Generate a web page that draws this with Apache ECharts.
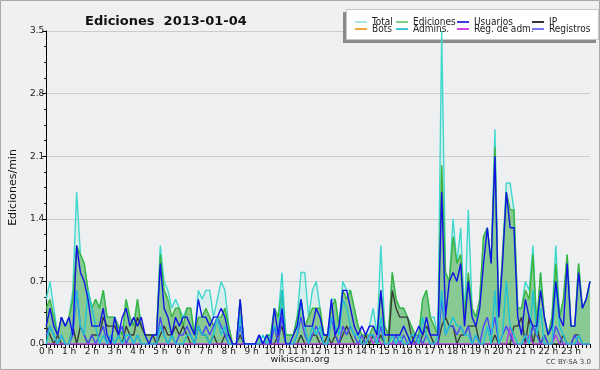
<!DOCTYPE html>
<html>
<head>
<meta charset="utf-8">
<script src="https://cdn.jsdelivr.net/npm/echarts@6/dist/echarts.min.js"></script>
<style>
  html, body { margin: 0; padding: 0; background: #f0f0f0; }
  #chart { width: 600px; height: 370px; }
</style>
</head>
<body>
<div id="chart"></div>
<script>
// one value per 10 minutes (144 per day), edits per minute
const hourLabels = ['0 h','1 h','2 h','3 h','4 h','5 h','6 h','7 h','8 h','9 h','10 h','11 h',
  '12 h','13 h','14 h','15 h','16 h','17 h','18 h','19 h','20 h','21 h','22 h','23 h']
const yTicks = [0, 0.7, 1.4, 2.1, 2.8, 3.5]

const total = [
  0.5,0.7,0.4,0.1,0.3,0.2, 0.3,0.6,1.7,1.0,0.9,0.6, 0.4,0.5,0.4,0.6,0.3,0.3,
  0.3,0.2,0.1,0.5,0.3,0.2, 0.5,0.2,0.1,0.1,0.1,0.1, 1.1,0.7,0.6,0.4,0.5,0.4,
  0.3,0.4,0.4,0.1,0.6,0.5, 0.6,0.6,0.3,0.5,0.7,0.6, 0.2,0,0,0.5,0,0,
  0,0,0.1,0,0.1,0.1, 0.4,0.3,0.8,0.1,0.1,0.1, 0.3,0.8,0.8,0.3,0.6,0.7,
  0.4,0.1,0.1,0.5,0.5,0.2, 0.7,0.6,0.6,0.4,0.2,0.1, 0.1,0.2,0.4,0.1,1.1,0.2,
  0.1,0.8,0.5,0.4,0.4,0.3, 0.2,0.1,0.1,0.5,0.6,0.3, 0.3,0.1,3.5,0.8,0.7,1.4,
  0.9,1.3,0.3,1.5,0.4,0.3, 0.5,1.2,1.3,0.9,2.4,0.3, 1.0,1.8,1.8,1.5,0.4,0.4,
  0.7,0.6,1.1,0.2,0.8,0.3, 0.1,0.3,1.1,0.3,0.5,1.0, 0.2,0.2,0.9,0.4,0.5,0.7
]
const ediciones = [
  0.4,0.5,0.3,0.1,0.3,0.2, 0.3,0.5,1.1,1.0,0.9,0.6, 0.4,0.5,0.4,0.6,0.3,0.3,
  0.3,0.2,0.1,0.5,0.3,0.2, 0.5,0.2,0.1,0.1,0.1,0.1, 1.0,0.6,0.5,0.3,0.4,0.4,
  0.2,0.4,0.4,0.1,0.3,0.3, 0.4,0.3,0.2,0.3,0.3,0.4, 0.2,0,0,0.5,0,0,
  0,0,0.1,0,0.1,0.1, 0.4,0.3,0.6,0.1,0.1,0.1, 0.3,0.5,0.2,0.3,0.4,0.4,
  0.4,0.1,0.1,0.4,0.5,0.2, 0.6,0.5,0.6,0.4,0.2,0.1, 0.1,0.1,0.2,0.1,0.6,0.2,
  0.1,0.8,0.5,0.4,0.4,0.3, 0.2,0.1,0.1,0.5,0.6,0.3, 0.2,0.1,2.0,0.8,0.7,1.2,
  0.9,1.0,0.3,0.8,0.4,0.3, 0.5,1.2,1.3,0.9,2.2,0.3, 1.0,1.7,1.5,1.5,0.4,0.4,
  0.6,0.5,1.0,0.2,0.8,0.3, 0.1,0.3,0.9,0.3,0.5,1.0, 0.2,0.2,0.9,0.4,0.5,0.7
]
const usuarios = [
  0.2,0.4,0.2,0.1,0.3,0.2, 0.3,0.1,1.1,0.8,0.7,0.5, 0.2,0.2,0.2,0.4,0.1,0,
  0.3,0.1,0.3,0.4,0.2,0.3, 0.2,0.3,0.1,0,0.1,0.1, 0.9,0.4,0.3,0.1,0.3,0.2,
  0.3,0.3,0.2,0.1,0.5,0.3, 0.3,0.2,0.3,0.3,0.4,0.3, 0.1,0,0,0.5,0,0,
  0,0,0.1,0,0.1,0, 0.4,0.1,0.4,0,0,0.1, 0.2,0.5,0.2,0.2,0.2,0.4,
  0.3,0.1,0.1,0.5,0.1,0.2, 0.6,0.6,0.4,0.2,0.1,0.2, 0.1,0.2,0.2,0.1,0.6,0.1,
  0.1,0.1,0.1,0.1,0.2,0.1, 0,0.1,0.2,0.1,0.3,0.1, 0.1,0.1,1.7,0.3,0.7,0.8,
  0.7,0.9,0.2,0.7,0.3,0.2, 0.4,0.9,1.3,0.9,2.1,0.3, 0.9,1.7,1.3,1.3,0.3,0.1,
  0.5,0.3,0.2,0.2,0.6,0.3, 0.1,0.2,0.7,0.3,0.2,0.9, 0.2,0.2,0.8,0.4,0.5,0.7
]
const ip = [
  0.2,0.1,0,0.1,0,0, 0,0.2,0,0.2,0.1,0, 0.1,0.1,0.1,0.3,0.2,0.2,
  0.2,0.1,0,0.2,0.1,0.1, 0.3,0.2,0.1,0.1,0.1,0, 0.1,0.2,0.1,0.1,0.2,0.1,
  0.2,0.1,0,0,0.2,0.1, 0.1,0,0.1,0,0,0.1, 0.1,0,0,0.1,0,0,
  0,0,0,0,0,0, 0,0.1,0.2,0,0,0, 0,0.1,0,0,0.1,0.1,
  0,0,0.1,0,0.1,0, 0.1,0.2,0.1,0,0,0, 0.1,0,0.1,0,0.1,0,
  0,0.6,0.4,0.3,0.3,0.3, 0.1,0,0,0.1,0.2,0.1, 0,0,0.2,0.3,0.2,0.2,
  0,0.1,0.1,0.2,0.2,0.2, 0,0,0,0,0.1,0, 0,0,0,0.2,0.2,0.3,
  0,0.3,0,0.2,0,0.1, 0,0,0,0,0.1,0, 0,0.1,0.1,0,0,0
]
const bots = []
const admins = [
  0,0.2,0.1,0,0.1,0, 0,0.2,0.6,0.2,0.1,0.6, 0.4,0.2,0,0.1,0,0.1,
  0,0.1,0,0.1,0.1,0, 0.1,0,0,0,0,0, 0.2,0.1,0,0.1,0,0,
  0,0.1,0.1,0,0.2,0.1, 0.1,0,0.1,0.3,0.1,0.2, 0,0,0,0.3,0,0,
  0,0,0,0.1,0,0.1, 0.2,0.1,0.6,0,0,0, 0.1,0.5,0.2,0,0.2,0.1,
  0.2,0,0,0.3,0.2,0.1, 0.5,0.4,0.2,0.1,0.1,0, 0,0.1,0.1,0,0.3,0,
  0,0.1,0,0.1,0,0, 0.1,0.1,0,0.3,0.1,0, 0,0.1,0.6,0.1,0.2,0.3,
  0.2,0.2,0.1,0.1,0,0.1, 0,0,0.2,0,0.6,0, 0.1,0.7,0.2,0.1,0,0,
  0.1,0,0.6,0.1,0.4,0, 0,0,0.7,0.2,0.1,0, 0,0,0.1,0,0,0
]
const regAdm = [
  0,0,0,0,0,0, 0,0,0,0,0,0, 0,0,0,0,0,0,
  0,0,0,0,0,0, 0,0,0,0,0,0, 0,0,0,0,0,0,
  0,0,0,0,0,0, 0,0,0,0,0,0, 0,0,0,0,0,0,
  0,0,0,0,0,0, 0,0,0,0,0,0, 0,0,0,0,0,0,
  0,0,0,0,0,0, 0,0,0,0,0,0, 0,0.1,0,0.1,0,0,
  0,0,0,0,0,0, 0,0,0,0,0,0, 0,0,0,0,0,0,
  0,0,0,0,0,0, 0,0,0,0,0,0, 0,0,0.2,0,0,0,
  0,0.1,0,0,0,0, 0,0,0.1,0,0,0, 0,0,0,0,0,0
]
const registros = [
  0.1,0.2,0.1,0,0.1,0, 0,0.1,0.6,0.2,0.1,0, 0.1,0,0.1,0.2,0,0.1,
  0,0.1,0.2,0,0.1,0, 0.1,0,0,0,0,0, 0.3,0.1,0,0.1,0,0.1,
  0.1,0.2,0.1,0,0.2,0.1, 0.2,0.1,0.2,0.3,0.2,0.1, 0,0,0,0.2,0,0,
  0,0,0.1,0,0,0, 0.2,0,0.3,0,0,0, 0.1,0.3,0.1,0,0.1,0.2,
  0.1,0,0,0.3,0.1,0, 0.2,0.1,0.2,0.1,0,0.1, 0,0.1,0.1,0,0.2,0,
  0,0,0.1,0,0.1,0, 0,0,0.1,0,0.1,0, 0,0,0.5,0.1,0.2,0.2,
  0.1,0.2,0.1,0.2,0,0.1, 0,0.2,0.3,0.1,0.3,0, 0.1,0.2,0.1,0,0,0,
  0.1,0,0.2,0.1,0,0.1, 0,0,0.2,0.1,0,0, 0,0.1,0,0,0,0
]

const pts = arr => arr.map((v, i) => [i, v])

function lineSeries(name, data, color, extra) {
  return Object.assign({
    name: name,
    type: 'line',
    data: pts(data),
    showSymbol: false,
    symbol: 'none',
    color: color,
    lineStyle: { width: 1.4, color: color },
    animation: false
  }, extra || {})
}

function legendCol(left, names) {
  return {
    left: left,
    top: 12,
    orient: 'vertical',
    itemGap: -3,
    itemWidth: 12,
    itemHeight: 2,
    icon: 'rect',
    selectedMode: false,
    textStyle: { fontFamily: 'DejaVu Sans Condensed, DejaVu Sans', fontSize: 10, color: '#222' },
    data: names
  }
}

const chart = echarts.init(document.getElementById('chart'))
chart.setOption({
  backgroundColor: '#f0f0f0',
  title: {
    text: 'Ediciones  2013-01-04',
    left: 80,
    top: 10,
    textStyle: { fontFamily: 'DejaVu Sans', fontSize: 13, fontWeight: 'bold', color: '#111' }
  },
  graphic: [
    { type: 'rect', shape: { x: 0.5, y: 0.5, width: 599, height: 369 }, style: { fill: 'none', stroke: '#a8a8a8', lineWidth: 1 }, z: 0 },
    { type: 'rect', shape: { x: 343, y: 12, width: 253, height: 31 }, style: { fill: '#8a8a8a' }, z: 1 },
    { type: 'rect', shape: { x: 346.5, y: 9.5, width: 252, height: 30 }, style: { fill: '#ffffff', stroke: '#c8c8c8', lineWidth: 1 }, z: 2 },
    { type: 'text', left: 'center', top: 355, style: { text: 'wikiscan.org', fontFamily: 'DejaVu Sans', fontSize: 9.5, fill: '#222' } },
    { type: 'text', right: 9, top: 359, style: { text: 'CC BY-SA 3.0', fontFamily: 'DejaVu Sans', fontSize: 7, fill: '#444' } }
  ],
  legend: [
    legendCol(350, [
      { name: 'Total', itemStyle: { color: '#a6e6e0' } },
      { name: 'Bots', itemStyle: { color: '#f3a640' } }
    ]),
    legendCol(391, [
      { name: 'Ediciones', itemStyle: { color: '#7fcf86' } },
      { name: 'Admins.', itemStyle: { color: '#3cc8d8' } }
    ]),
    legendCol(452, [
      { name: 'Usuarios', itemStyle: { color: '#3b3be0' } },
      { name: 'Reg. de adm.', itemStyle: { color: '#cf45e6' } }
    ]),
    legendCol(527, [
      { name: 'IP', itemStyle: { color: '#333333' } },
      { name: 'Registros', itemStyle: { color: '#7878f0' } }
    ])
  ],
  grid: {
    left: 42,
    right: 10,
    top: 31,
    bottom: 26,
    show: true,
    backgroundColor: '#eeeff1',
    borderWidth: 0
  },
  xAxis: {
    type: 'value',
    min: 0,
    max: 143,
    interval: 6,
    axisLine: { lineStyle: { color: '#000', width: 1 } },
    axisTick: { show: true, length: 4, lineStyle: { color: '#000' } },
    minorTick: { show: true, splitNumber: 6, length: 4, lineStyle: { color: '#000' } },
    splitLine: { show: false },
    axisLabel: {
      fontFamily: 'DejaVu Sans',
      fontSize: 9,
      color: '#222',
      margin: 3,
      showMaxLabel: false,
      formatter: v => (v % 6 === 0 ? hourLabels[v / 6] : '')
    }
  },
  yAxis: {
    type: 'value',
    min: yTicks[0],
    max: yTicks[yTicks.length - 1],
    interval: 0.7,
    name: 'Ediciones/min',
    nameLocation: 'middle',
    nameGap: 26,
    nameTextStyle: { fontFamily: 'DejaVu Sans', fontSize: 11, color: '#111' },
    axisLine: { show: true, lineStyle: { color: '#000', width: 1 } },
    axisTick: { show: true, length: 4, lineStyle: { color: '#000' } },
    minorTick: { show: true, splitNumber: 4, length: 2, lineStyle: { color: '#000' } },
    splitLine: { lineStyle: { color: '#cccccc', width: 1 } },
    axisLabel: {
      fontFamily: 'DejaVu Sans',
      fontSize: 9,
      color: '#222',
      margin: 2,
      formatter: v => v.toFixed(1)
    }
  },
  series: [
    lineSeries('Total', total, '#3fd8cc', { areaStyle: { color: '#40e0d0', opacity: 0.12 } }),
    lineSeries('Ediciones', ediciones, '#3cb43c', { areaStyle: { color: '#3aa63a', opacity: 0.5 } }),
    lineSeries('Bots', bots, '#f3a640'),
    lineSeries('IP', ip, '#3a3a3a'),
    lineSeries('Registros', registros, '#4848f8'),
    lineSeries('Reg. de adm.', regAdm, '#b83ee8'),
    lineSeries('Admins.', admins, '#1ec4d6'),
    lineSeries('Usuarios', usuarios, '#1212e8')
  ]
})
</script>
</body>
</html>
